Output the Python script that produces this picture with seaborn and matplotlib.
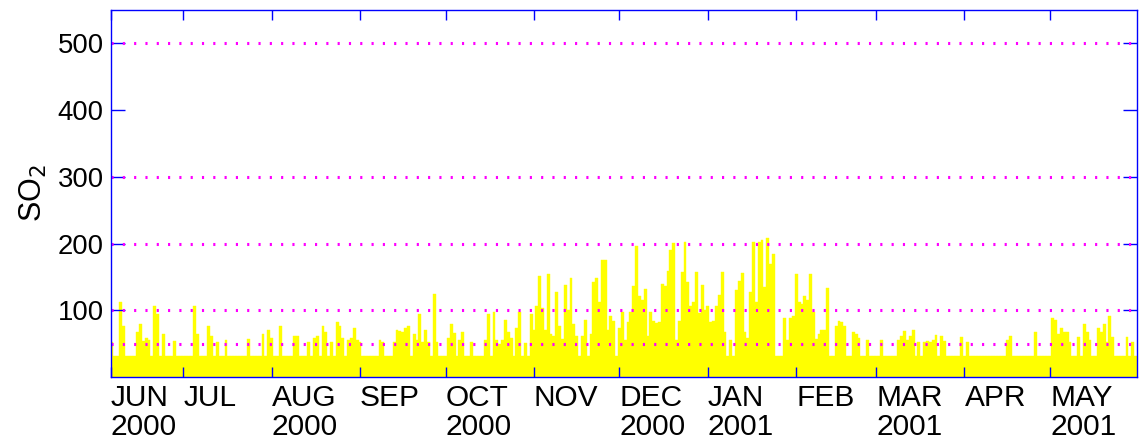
import pandas as pd
import seaborn as sns
import matplotlib.pyplot as plt

# daily SO2 values, June 6 2000 .. May 31 2001 (31 = floor of the readings)
jun = [52, 31, 31, 113, 77, 31, 31, 31, 31, 68, 80, 54, 59, 55, 31, 107, 95, 31, 65, 31,
       31, 31, 54, 31, 31]
jul = [31, 31, 31, 31, 107, 64, 31, 31, 31, 77, 61, 31, 52, 31, 31, 56, 31, 31, 31, 31,
       31, 31, 31, 57, 31, 31, 31, 31, 65, 31, 71]
aug = [59, 31, 31, 76, 31, 31, 31, 31, 61, 61, 31, 31, 31, 52, 31, 58, 61, 31, 76, 67,
       31, 52, 31, 82, 77, 58, 31, 56, 58, 73, 56]
sep = [53, 31, 31, 31, 31, 31, 31, 55, 52, 31, 31, 31, 52, 71, 69, 67, 74, 76, 31, 65,
       55, 94, 53, 71, 52, 31, 124, 52, 31, 31]
oct_ = [31, 59, 79, 66, 31, 55, 68, 31, 31, 52, 31, 31, 31, 31, 56, 94, 31, 97, 56, 50,
        55, 85, 68, 59, 31, 74, 98, 31, 51, 31, 95]
nov = [70, 107, 151, 104, 71, 154, 65, 61, 128, 76, 57, 138, 100, 148, 79, 61, 31, 61, 86, 31,
       65, 142, 149, 113, 176, 176, 71, 92, 84, 31]
dec = [73, 97, 56, 83, 97, 136, 196, 121, 116, 132, 62, 97, 84, 81, 82, 139, 136, 159, 190, 201,
       56, 84, 158, 202, 142, 106, 113, 158, 96, 138, 100]
jan = [107, 83, 84, 107, 123, 158, 68, 31, 56, 31, 130, 144, 156, 67, 59, 128, 202, 113, 202, 206,
       135, 208, 170, 185, 31, 31, 31, 88, 56, 88, 91]
feb = [154, 112, 110, 121, 116, 154, 97, 57, 65, 71, 70, 133, 31, 31, 76, 84, 83, 77, 31, 31,
       67, 65, 58, 31, 31, 56, 31, 31]
mar = [31, 31, 56, 31, 31, 31, 31, 31, 55, 62, 69, 55, 61, 71, 31, 52, 31, 52, 54, 53,
       56, 63, 31, 62, 54, 31, 31, 31, 31, 31, 60]
apr = [31, 52, 31, 31, 31, 31, 31, 31, 31, 31, 31, 31, 31, 31, 31, 56, 62, 31, 31, 31,
       31, 31, 31, 31, 31, 68, 31, 31, 31, 31]
may = [31, 88, 85, 65, 74, 67, 67, 52, 31, 31, 60, 31, 80, 68, 56, 31, 31, 74, 68, 79,
       52, 91, 60, 31, 31, 31, 31, 60, 31, 52, 31]

month_labels = ["JUN\n2000", "JUL", "AUG\n2000", "SEP", "OCT\n2000", "NOV",
                "DEC\n2000", "JAN\n2001", "FEB", "MAR\n2001", "APR", "MAY\n2001"]
yticks = [100, 200, 300, 400, 500]
grid_levels = [50, 100, 200, 300, 500]

start = pd.Timestamp("2000-06-01")
values = jun + jul + aug + sep + oct_ + nov + dec + jan + feb + mar + apr + may
dates = pd.date_range("2000-06-06", periods=len(values), freq="D")
df = pd.DataFrame({"day": (dates - start).days, "so2": values})

plt.rcParams["font.family"] = ["Liberation Sans", "DejaVu Sans"]

fig = plt.figure(figsize=(11.39, 4.46), dpi=100)
ax = fig.add_axes([110.5 / 1139, 1 - 377 / 446, 1026.5 / 1139, 367 / 446])

sns.barplot(data=df, x="day", y="so2", native_scale=True, orient="x", width=1,
            color="#ffff00", saturation=1, errorbar=None, linewidth=0.3,
            edgecolor="#ffff00", ax=ax)

for lev in grid_levels:
    ax.axhline(lev, color="#ff00ff", lw=2.2, ls=(0, (0.7, 3.0)),
               dash_capstyle="butt", zorder=3)

# month ticks, first one pinned to the left edge
xmin, xmax = 4.5, 364.5
month_pos = list((pd.date_range("2000-06-01", "2001-05-01", freq="MS") - start).days)
month_pos[0] = xmin
ax.set_xlim(xmin, xmax)
ax.set_ylim(0, 550)
ax.set_xticks(month_pos)
ax.set_xticklabels(month_labels, ha="left", linespacing=1.05, fontsize=21.5)
ax.set_yticks(yticks)
ax.set_yticklabels([str(t) for t in yticks], fontsize=19.8)
ax.set_xlabel("")
ax.set_ylabel("SO$_2$", fontsize=22, labelpad=6)

ax.tick_params(axis="both", direction="in", top=True, right=True, color="blue", width=1)
ax.tick_params(axis="x", length=7, pad=5)
ax.tick_params(axis="y", length=10, pad=5)
for s in ax.spines.values():
    s.set_color("blue")
    s.set_linewidth(1)
    s.set_zorder(4)

fig.savefig("out.png", dpi=100)
